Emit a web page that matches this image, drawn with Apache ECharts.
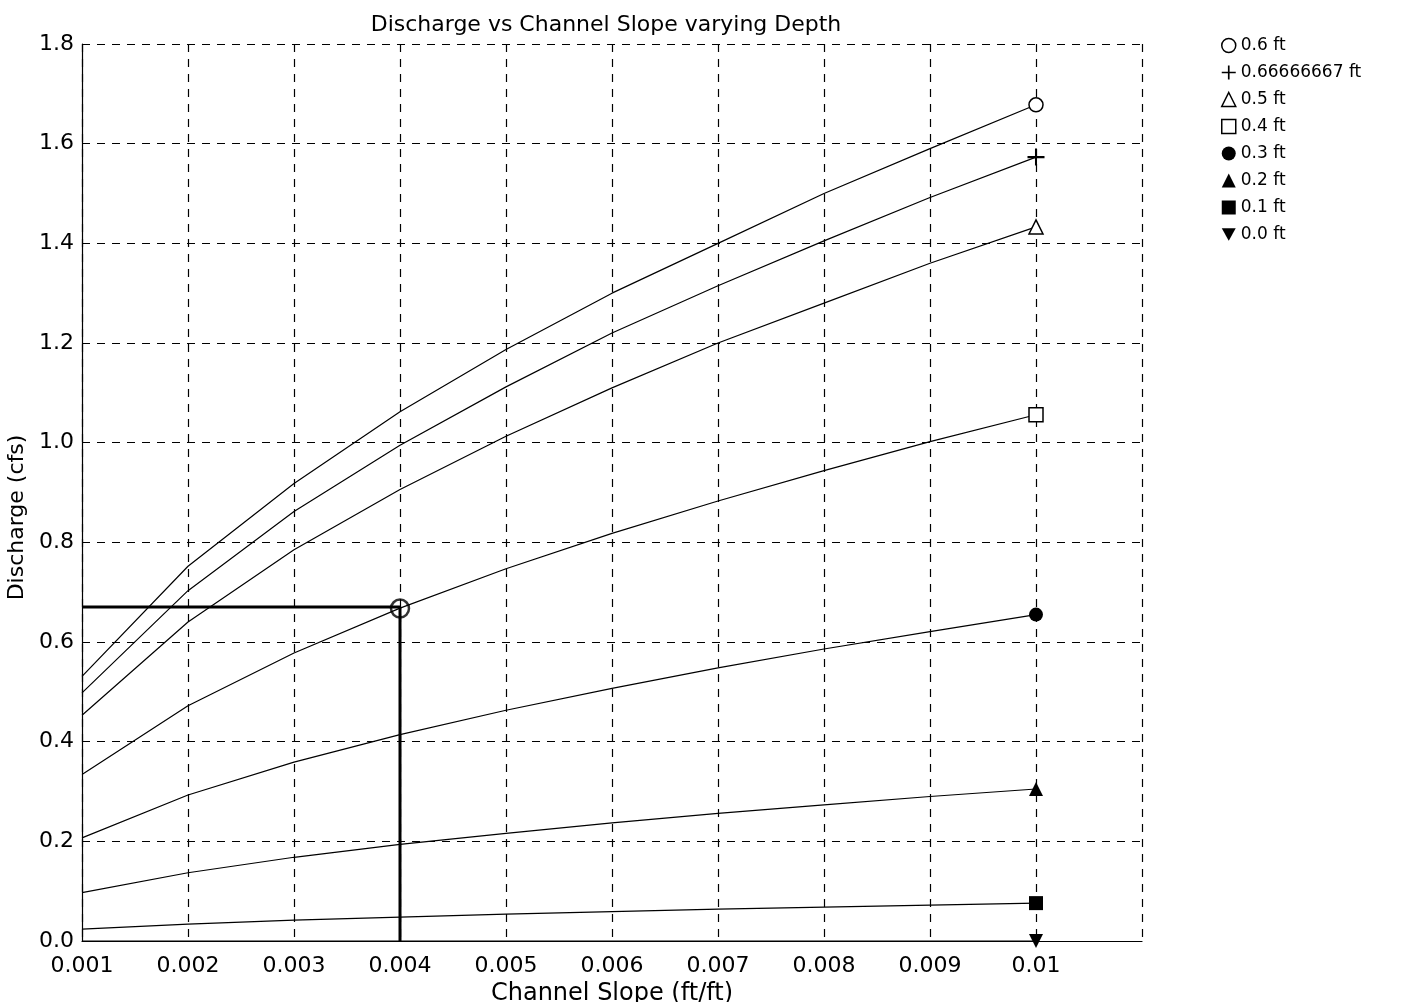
<!DOCTYPE html>
<html>
<head>
<meta charset="utf-8">
<script src="https://cdn.jsdelivr.net/npm/echarts@6/dist/echarts.min.js"></script>
<style>
  html, body { margin: 0; padding: 0; background: #fff; }
  #chart { width: 1403px; height: 1002px; }
</style>
</head>
<body>
<div id="chart"></div>
<script>
// channel slope (ft/ft)
var slopes = [0.001, 0.002, 0.003, 0.004, 0.005, 0.006, 0.007, 0.008, 0.009, 0.01];
// discharge (cfs) per depth
var q06   = [0.531, 0.752, 0.918, 1.062, 1.187, 1.300, 1.400, 1.500, 1.590, 1.678];
var q0667 = [0.498, 0.703, 0.862, 0.995, 1.112, 1.220, 1.315, 1.405, 1.492, 1.573];
var q05   = [0.453, 0.640, 0.785, 0.906, 1.013, 1.110, 1.200, 1.280, 1.360, 1.433];
var q04   = [0.334, 0.472, 0.578, 0.668, 0.747, 0.818, 0.883, 0.944, 1.002, 1.056];
var q03   = [0.207, 0.293, 0.359, 0.414, 0.463, 0.507, 0.548, 0.586, 0.621, 0.655];
var q02   = [0.097, 0.137, 0.168, 0.194, 0.216, 0.237, 0.256, 0.273, 0.290, 0.305];
var q01   = [0.024, 0.034, 0.042, 0.048, 0.054, 0.059, 0.064, 0.068, 0.072, 0.076];
var q00   = [0, 0, 0, 0, 0, 0, 0, 0, 0, 0];
var depthNames = ['0.6 ft', '0.66666667 ft', '0.5 ft', '0.4 ft', '0.3 ft', '0.2 ft', '0.1 ft', '0.0 ft'];
// read-off guide
var guideX = [0.001, 0.004, 0.004];
var guideY = [0.67, 0.67, 0];
var pickX = 0.004, pickY = 0.667;

var plusPath = 'path://M4.4,0 H5.6 V4.4 H10 V5.6 H5.6 V10 H4.4 V5.6 H0 V4.4 H4.4 Z';
var downTri = 'path://M0,0 L10,0 L5,9 Z';
var font = 'DejaVu Sans, Liberation Sans, sans-serif';

var marks = [
  { icon: 'circle', hollow: true },
  { icon: plusPath, hollow: false },
  { icon: 'triangle', hollow: true },
  { icon: 'rect', hollow: true },
  { icon: 'circle', hollow: false },
  { icon: 'triangle', hollow: false },
  { icon: 'rect', hollow: false },
  { icon: downTri, hollow: false }
];
var allQ = [q06, q0667, q05, q04, q03, q02, q01, q00];

function pairs(xs, ys) {
  return xs.map(function (x, i) { return [x, ys[i]]; });
}

var series = allQ.map(function (q, k) {
  var m = marks[k];
  var last = slopes.length - 1;
  return {
    name: depthNames[k],
    type: 'line',
    data: pairs(slopes, q),
    symbol: function (v, p) { return p.dataIndex === last ? m.icon : 'none'; },
    symbolSize: k === 1 ? 17 : 14,
    showAllSymbol: true,
    lineStyle: { color: '#000', width: 1.2 },
    itemStyle: m.hollow ? { color: '#fff', borderColor: '#000', borderWidth: 1.5 } : { color: '#000', borderWidth: 0 },
    z: 3
  };
});

series.push({
  name: 'guide',
  type: 'line',
  data: pairs(guideX, guideY),
  symbol: 'none',
  lineStyle: { color: '#000', width: 3 },
  z: 4
});
series.push({
  name: 'pick',
  type: 'scatter',
  data: [[pickX, pickY]],
  symbol: 'circle',
  symbolSize: 18,
  itemStyle: { color: 'rgba(0,0,0,0)', borderColor: '#000', borderWidth: 2.5 },
  z: 5
});

var chart = echarts.init(document.getElementById('chart'));
chart.setOption({
  animation: false,
  backgroundColor: '#fff',
  textStyle: { fontFamily: font, color: '#000' },
  title: {
    text: 'Discharge vs Channel Slope varying Depth',
    left: 601,
    textAlign: 'center',
    top: 9,
    textStyle: { fontSize: 22, fontWeight: 'normal', color: '#000', fontFamily: font }
  },
  legend: {
    orient: 'vertical',
    left: 1216,
    top: 32,
    itemWidth: 14,
    itemHeight: 14,
    itemGap: 10,
    textStyle: { fontSize: 17, lineHeight: 17, color: '#000', fontFamily: font },
    data: depthNames.map(function (n, k) {
      var m = marks[k];
      return {
        name: n,
        icon: m.icon,
        itemStyle: m.hollow ? { color: '#fff', borderColor: '#000', borderWidth: 1.5 } : { color: '#000', borderWidth: 0 }
      };
    })
  },
  grid: { left: 82, right: 261, top: 44, bottom: 61, outerBoundsMode: 'none', containLabel: false },
  xAxis: {
    type: 'value',
    min: 0.001,
    max: 0.011,
    interval: 0.001,
    name: 'Channel Slope (ft/ft)',
    nameLocation: 'middle',
    nameGap: 30,
    nameTextStyle: { fontSize: 24, color: '#000', fontFamily: font },
    axisLine: { show: true, lineStyle: { color: '#000', width: 1.2 } },
    axisTick: { show: false },
    axisLabel: {
      fontSize: 22, color: '#000', margin: 14, fontFamily: font,
      formatter: function (v) {
        if (v > 0.0105) return '';
        return String(+v.toFixed(3));
      }
    },
    splitLine: { show: true, lineStyle: { color: '#000', type: [8, 7], width: 1.2 } }
  },
  yAxis: {
    type: 'value',
    min: 0,
    max: 1.8,
    interval: 0.2,
    name: 'Discharge (cfs)',
    nameLocation: 'middle',
    nameGap: 53,
    nameTextStyle: { fontSize: 22, color: '#000', fontFamily: font, padding: [0, 50, 0, 0] },
    axisLine: { show: true, lineStyle: { color: '#000', width: 1.2 } },
    axisTick: { show: false },
    axisLabel: {
      fontSize: 22, color: '#000', margin: 8, fontFamily: font,
      formatter: function (v) { return v.toFixed(1); }
    },
    splitLine: { show: true, lineStyle: { color: '#000', type: [8, 7], width: 1.2 } }
  },
  series: series
});
</script>
</body>
</html>
